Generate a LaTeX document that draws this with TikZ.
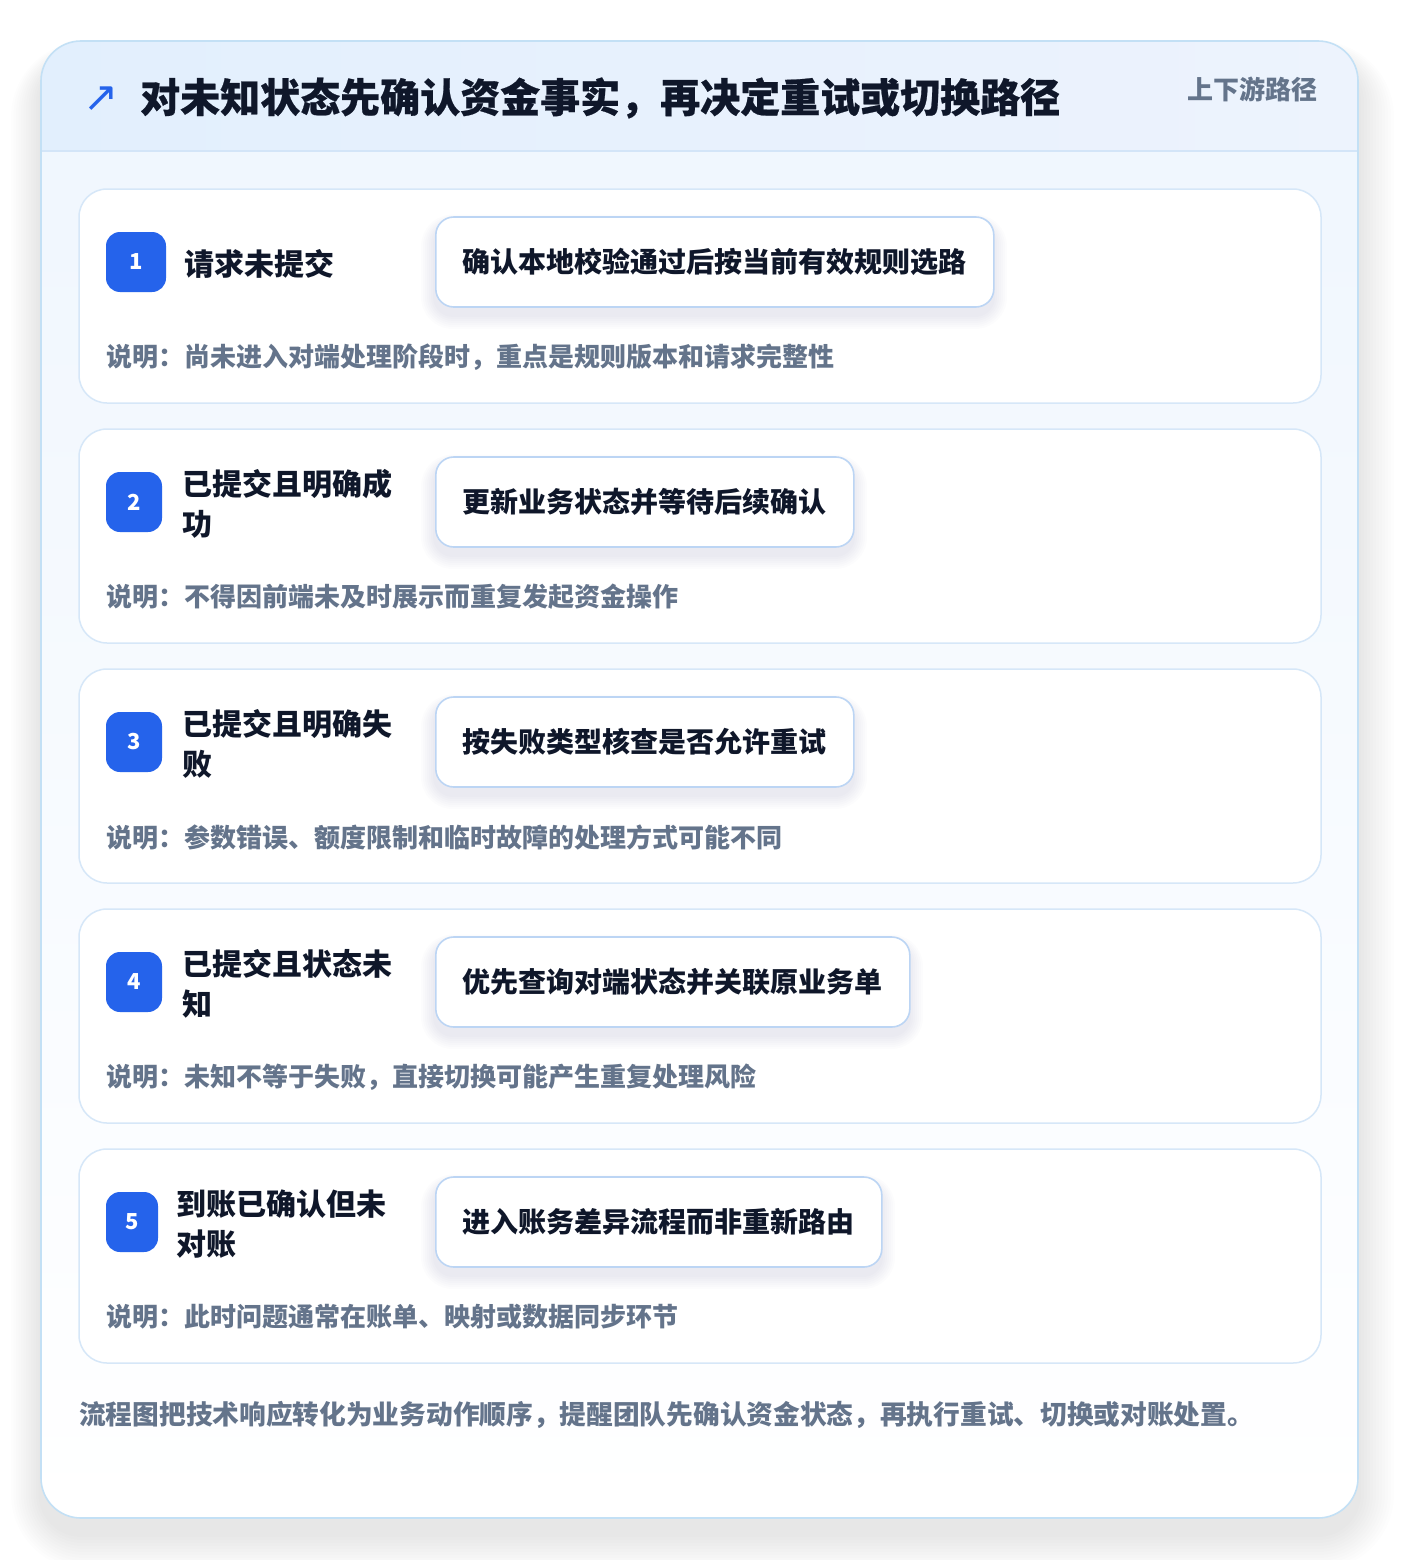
\documentclass[tikz,border=0pt]{standalone}
\usepackage{fontspec}
\setmainfont{Noto Sans CJK SC}
\newfontfamily\djv{DejaVu Sans}
\definecolor{badgeblue}{HTML}{2563EB}
\definecolor{ink}{HTML}{0F172A}
\definecolor{muted}{HTML}{64748B}
\definecolor{cardborder}{HTML}{C3E0F5}
\definecolor{rowborder}{HTML}{D6E7F8}
\definecolor{boxborder}{HTML}{BCD5F4}
\definecolor{headL}{HTML}{E2EFFD}
\definecolor{headR}{HTML}{EDF3FD}
\definecolor{bodytop}{HTML}{EFF6FE}
\definecolor{divider}{HTML}{D3E5F8}
\definecolor{shadowcol}{HTML}{334155}
\tikzset{
  card/.style={draw=cardborder, line width=1.6pt, rounded corners=40pt, minimum width=1317pt, minimum height=1477pt, inner sep=0pt},
  rowcard/.style={draw=rowborder, line width=1.5pt, fill=white, rounded corners=28pt, minimum width=1242pt, minimum height=214pt, inner sep=0pt},
  badge/.style={fill=badgeblue, rounded corners=14pt, minimum height=60pt, inner sep=0pt, text=white, font=\bfseries\fontsize{22}{22}\selectfont},
  label/.style={anchor=west, inner sep=0pt, align=left, text=ink, font=\bfseries\fontsize{30}{40}\selectfont},
  actbox/.style={anchor=west, draw=boxborder, line width=1.6pt, fill=white, rounded corners=18pt, minimum height=90pt, inner xsep=27pt, inner ysep=0pt, text=ink, font=\bfseries\fontsize{28}{28}\selectfont},
  note/.style={anchor=west, inner sep=0pt, text=muted, font=\bfseries\fontsize{26}{26}\selectfont},
}
\begin{document}
\begin{tikzpicture}[x=1pt,y=-1pt]
\useasboundingbox (0,0) rectangle (1400,1560);
\fill[white] (0,0) rectangle (1400,1560);
% outer card soft shadow
\foreach \k in {1,...,12} {
  \fill[shadowcol, opacity=0.008, rounded corners=40pt+\k*3pt] (41-\k*2.5,41+18-\k*1.5) rectangle (1358+\k*3,1518+16+\k*3);
}
\shade[top color=bodytop, bottom color=white, rounded corners=40pt] (41,41) rectangle (1358,1518);
\begin{scope}
  \clip[rounded corners=40pt] (41,41) rectangle (1358,1518);
  \shade[left color=headL, right color=headR] (41,41) rectangle (1358,151);
\end{scope}
\draw[divider, line width=1.5pt] (42,151) -- (1357,151);
\node[card] (card) at (699.5,779.5) {};

% header
\node[anchor=center, inner sep=0pt, text=badgeblue, font=\djv\fontsize{42}{42}\selectfont] (arrow) at (101.5,99) {↗};
\node[anchor=west, inner sep=0pt, text=ink, font=\bfseries\addfontfeatures{FakeBold=0.6}\fontsize{40}{40}\selectfont] (title) at (140,98) {对未知状态先确认资金事实，再决定重试或切换路径};
\node[anchor=east, inner sep=0pt, text=muted, font=\bfseries\fontsize{26}{26}\selectfont] (tag) at (1318,89) {上下游路径};

% rows
\foreach \i/\bw/\lx/\aw/\lab/\act/\nt in {
 1/60/184/558/{请求未提交}/{确认本地校验通过后按当前有效规则选路}/{说明：尚未进入对端处理阶段时，重点是规则版本和请求完整性},
 2/56/182/418/{已提交且明确成\\功}/{更新业务状态并等待后续确认}/{说明：不得因前端未及时展示而重复发起资金操作},
 3/56/182/418/{已提交且明确失\\败}/{按失败类型核查是否允许重试}/{说明：参数错误、额度限制和临时故障的处理方式可能不同},
 4/56/182/474/{已提交且状态未\\知}/{优先查询对端状态并关联原业务单}/{说明：未知不等于失败，直接切换可能产生重复处理风险},
 5/52/176/446/{到账已确认但未\\对账}/{进入账务差异流程而非重新路由}/{说明：此时问题通常在账单、映射或数据同步环节}}
{
  \pgfmathsetmacro{\top}{189+240*(\i-1)}
  \node[rowcard] (row\i) at (700,\top+107) {};
  \node[badge, minimum width=\bw pt] (badge\i) at (106+\bw/2,\top+73) {\i};
  \node[label] (label\i) at (\lx,\top+75) {\lab};
  \foreach \k in {1,...,7} {
    \fill[shadowcol, opacity=0.012, rounded corners=18pt+\k*2pt] (435-\k*2,\top+28+8-\k*1.5) rectangle (435+\aw+\k*2,\top+118+8+\k*2);
  }
  \node[actbox] (act\i) at (435,\top+73) {\act};
  \node[note] (note\i) at (106,\top+168) {\nt};
}

% footer
\node[anchor=west, inner sep=0pt, text=muted, font=\bfseries\fontsize{26.7}{26.7}\selectfont] (footer) at (79,1415) {流程图把技术响应转化为业务动作顺序，提醒团队先确认资金状态，再执行重试、切换或对账处置。};
\end{tikzpicture}
\end{document}
